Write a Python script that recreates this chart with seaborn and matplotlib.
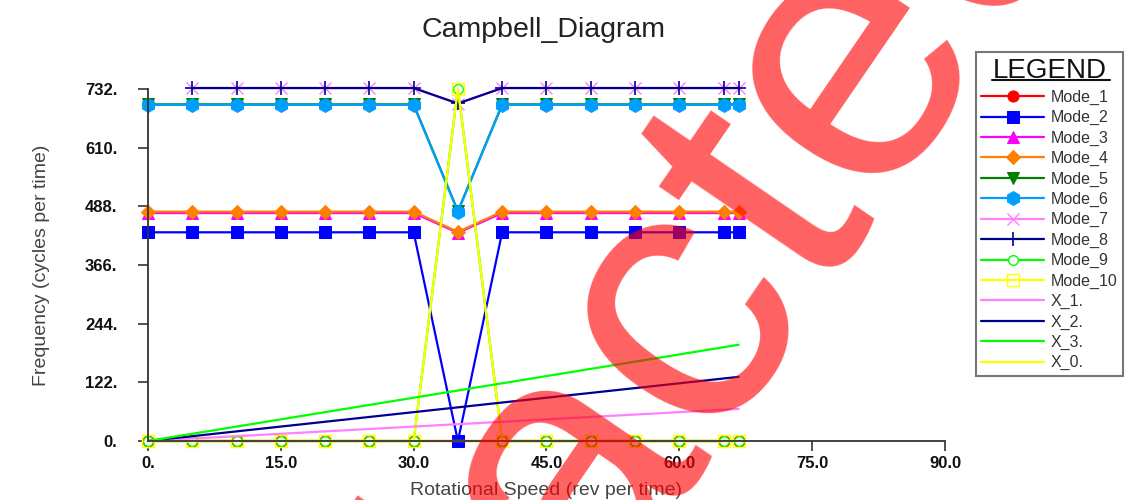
import numpy as np
import pandas as pd
import seaborn as sns
import matplotlib.pyplot as plt
from matplotlib.lines import Line2D
from matplotlib.textpath import TextPath
from matplotlib.font_manager import FontProperties

sns.set_style("ticks")
plt.rcParams['font.family'] = ['Liberation Sans', 'DejaVu Sans']

# rotational speed (rev per time)
speed = [0, 5, 10, 15, 20, 25, 30, 35, 40, 45, 50, 55, 60, 65, 66.7]

# mode frequencies (cycles per time)
mode_1 = [0, 0, 0, 0, 0, 0, 0, 0, 0, 0, 0, 0, 0, 0, 0]
mode_2 = [434, 434, 434, 434, 434, 434, 434, 0, 434, 434, 434, 434, 434, 434, 434]
mode_3 = [474, 474, 474, 474, 474, 474, 474, 433, 474, 474, 474, 474, 474, 474, 474]
mode_4 = [477, 477, 477, 477, 477, 477, 477, 435, 477, 477, 477, 477, 477, 477, 477]
mode_5 = [700, 700, 700, 700, 700, 700, 700, 478, 700, 700, 700, 700, 700, 700, 700]
mode_6 = [699, 699, 699, 699, 699, 699, 699, 477, 699, 699, 699, 699, 699, 699, 699]
mode_7 = [np.nan, 734, 734, 734, 734, 734, 734, 701, 734, 734, 734, 734, 734, 734, 734]
mode_8 = [np.nan, 734, 734, 734, 734, 734, 734, 702, 734, 734, 734, 734, 734, 734, 734]
mode_9 = [0, 0, 0, 0, 0, 0, 0, 733, 0, 0, 0, 0, 0, 0, 0]
mode_10 = [0, 0, 0, 0, 0, 0, 0, 733, 0, 0, 0, 0, 0, 0, 0]

# excitation order lines (end points)
order_speed = [0, 66.7]
x_1 = [0, 66.7]
x_2 = [0, 133.4]
x_3 = [0, 200.1]
x_0 = [0, 0]

x_ticks = [0, 15, 30, 45, 60, 75, 90]
x_ticklabels = ['0.', '15.0', '30.0', '45.0', '60.0', '75.0', '90.0']
y_ticks = [0, 122, 244, 366, 488, 610, 732]
y_ticklabels = ['0.', '122.', '244.', '366.', '488.', '610.', '732.']

modes = [
    ('Mode_1', mode_1, '#ff0000', dict(marker='o', ms=8)),
    ('Mode_2', mode_2, '#0000ff', dict(marker='s', ms=9)),
    ('Mode_3', mode_3, '#ff00ff', dict(marker='^', ms=8)),
    ('Mode_4', mode_4, '#ff7f00', dict(marker='D', ms=7)),
    ('Mode_5', mode_5, '#007f00', dict(marker='v', ms=8)),
    ('Mode_6', mode_6, '#009fff', dict(marker='h', ms=10)),
    ('Mode_7', mode_7, '#ff80ff', dict(marker='x', ms=9, mew=1.0)),
    ('Mode_8', mode_8, '#00008f', dict(marker='+', ms=10, mew=1.2)),
    ('Mode_9', mode_9, '#00ff00', dict(marker='o', ms=7, mfc='white', mew=1.0)),
    ('Mode_10', mode_10, '#ffff00', dict(marker='s', ms=9, mfc='none', mew=1.0)),
]
orders = [
    ('X_1.', x_1, '#ff80ff'),
    ('X_2.', x_2, '#00008f'),
    ('X_3.', x_3, '#00ff00'),
    ('X_0.', x_0, '#ffff00'),
]

W, H = 1132, 500
fig = plt.figure(figsize=(W / 100, H / 100), dpi=100)
ax = fig.add_axes([0.1307, 0.118, 0.7041, 0.704])

for name, vals, col, mk in modes:
    df = pd.DataFrame({'speed': speed, 'freq': vals})
    sns.lineplot(data=df, x='speed', y='freq', ax=ax, color=col, lw=1.6,
                 estimator=None, sort=False, label=name, clip_on=False,
                 mec=col, **mk)

for name, vals, col in orders:
    df = pd.DataFrame({'speed': order_speed, 'freq': vals})
    sns.lineplot(data=df, x='speed', y='freq', ax=ax, color=col, lw=1.6,
                 estimator=None, sort=False, label=name, clip_on=False)

ax.set_xlim(0, 90)
ax.set_ylim(0, 732)
ax.set_xticks(x_ticks)
ax.set_xticklabels(x_ticklabels)
ax.set_yticks(y_ticks)
ax.set_yticklabels(y_ticklabels)
sns.despine(ax=ax)
for s in ['left', 'bottom']:
    ax.spines[s].set_color('#333333')
    ax.spines[s].set_linewidth(1.3)
ax.tick_params(axis='both', direction='out', length=7, width=1.2, color='#333333',
               labelsize=12, labelcolor='#111111')
ax.tick_params(axis='y', pad=15)
ax.tick_params(axis='x', pad=4)
for lab in ax.get_xticklabels() + ax.get_yticklabels():
    lab.set_fontweight('bold')

ax.set_xlabel('Rotational Speed (rev per time)', fontsize=14, color='#444444', labelpad=8)
ax.set_ylabel('Frequency (cycles per time)', fontsize=14, color='#444444', labelpad=25)
fig.suptitle('Campbell_Diagram', x=0.48, y=0.966, fontsize=20.5, color='#222222')

leg = ax.legend(loc='upper left', bbox_to_anchor=(0.862, 0.896),
                bbox_transform=fig.transFigure, borderaxespad=0,
                title='LEGEND', title_fontsize=20, fontsize=11.5,
                handlelength=3.9, handletextpad=0.45, labelspacing=0.33,
                borderpad=0.35, fancybox=False, frameon=True)
leg.get_frame().set_edgecolor('#555555')
leg.get_frame().set_linewidth(1.5)
for t in leg.get_texts():
    t.set_color('#333333')
leg.get_title().set_color('#111111')
leg._legend_box.sep = 4.5

# underline under legend title
fig.add_artist(Line2D([992 / W, 1110 / W], [1 - 80 / H, 1 - 80 / H],
                      transform=fig.transFigure, color='#111111', lw=1.5))

# red watermark overlay: place so the "c" and last "e" land where they sit in the picture
word = 'Redacted'
fp = FontProperties(family='Liberation Sans')
def ink_x1(s):
    return TextPath((0, 0), s, size=1, prop=fp).get_extents().x1
cx = (ink_x1('Reda') + ink_x1('Redac')) / 2 + 0.02
ex = (ink_x1('Redact') + ink_x1('Redacte')) / 2 + 0.02
ext_c = TextPath((0, 0), 'c', size=1, prop=fp).get_extents()
cy = (ext_c.y0 + ext_c.y1) / 2
c_px = np.array([688.0, H - 330.0])
e_px = np.array([838.0, H - 64.0])
vec = e_px - c_px
theta = np.arctan2(vec[1], vec[0]) - np.radians(5)
em = np.hypot(*vec) / (ex - cx) * 0.97
xdir = np.array([np.cos(theta), np.sin(theta)])
updir = np.array([-np.sin(theta), np.cos(theta)])
anchor = c_px - em * (cx * xdir + cy * updir) + np.array([-14.0, 35.0])
fig.text(anchor[0] / W, anchor[1] / H, word, fontproperties=fp, fontsize=em * 72 / 100,
         color='#ff0000', alpha=0.62, rotation=np.degrees(theta), rotation_mode='anchor',
         ha='left', va='baseline', zorder=20)

fig.savefig('out.png', dpi=100)
